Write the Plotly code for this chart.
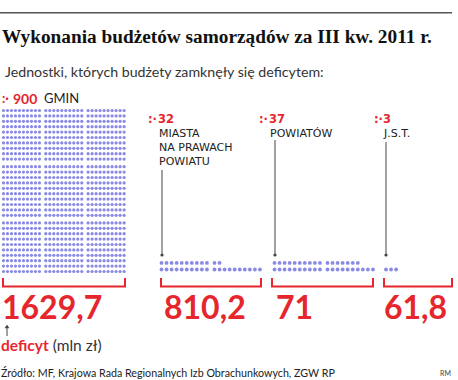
import plotly.graph_objects as go

# ---------------- data ----------------
categories = [["GMIN"], ["MIASTA", "NA PRAWACH", "POWIATU"], ["POWIATÓW"], ["J.S.T."]]
counts = [900, 32, 37, 3]
deficits = [1629.7, 810.2, 71, 61.8]

title = "Wykonania budżetów samorządów za III kw. 2011 r."
subtitle = "Jednostki, których budżety zamknęły się deficytem:"
source = "Źródło: MF, Krajowa Rada Regionalnych Izb Obrachunkowych, ZGW RP"

# ---------------- style / layout constants ----------------
W, H = 458, 380
RED = "#e5262c"
DOT = "#8a8ae4"
DARK = "#222222"
SANS = "Lato"
LBL = "DejaVu Sans"

grp_left = [3, 161, 272, 384]
grp_right = [125, 261, 373, 452]
dot_x0 = [3.5, 161.5, 274.5, 386.0]

fig = go.Figure()

# ---- dots ----
# big group: blocks of 10x10, 3 columns x 3 rows
bx, by = [], []
for k in range(counts[0]):
    block, within = divmod(k, 100)
    rg, col = divmod(block, 3)
    j, i = divmod(within, 10)
    bx.append(dot_x0[0] + col * 42.3 + i * 4.0)
    by.append(110.5 + rg * (10 * 5.4 + 2.2) + j * 5.4)
fig.add_trace(go.Scatter(x=bx, y=by, mode="markers",
                         marker=dict(size=3.2, color=DOT, line=dict(width=0)),
                         hoverinfo="skip", showlegend=False))

sx, sy = [], []
for g in range(1, 4):
    for k in range(counts[g]):
        row, pos = divmod(k, 20)
        sub, i = divmod(pos, 10)
        sx.append(dot_x0[g] + sub * (10 * 5.05 + 2.5) + i * 5.05)
        sy.append(269.5 - row * 6.6)
fig.add_trace(go.Scatter(x=sx, y=sy, mode="markers",
                         marker=dict(size=3.8, color=DOT, line=dict(width=0)),
                         hoverinfo="skip", showlegend=False))

shapes = []
ann = []

def text(x, y, s, size, color=DARK, family=SANS, xanchor="left", yanchor="middle"):
    ann.append(dict(x=x, y=y, xref="x", yref="y", text=s, showarrow=False,
                    xanchor=xanchor, yanchor=yanchor, borderpad=0,
                    font=dict(size=size, color=color, family=family)))

# top rule
shapes.append(dict(type="line", x0=0, x1=452, y0=12.7, y1=12.7,
                   line=dict(color="#555555", width=1.5)))

text(1, 36, "<b>" + title + "</b>", 19.3, "#111111", "Liberation Serif")
text(4, 71, subtitle, 14.2, "#333333")

# brackets + numbers
for g in range(4):
    x0, x1 = grp_left[g], grp_right[g]
    shapes.append(dict(type="path",
                       path=f"M {x0},278 L {x0},286.5 L {x1},286.5 L {x1},278",
                       line=dict(color=RED, width=2)))
    lab = f"{deficits[g]:g}".replace(".", ",")
    nx = [1, 163, 275, 383][g]
    text(nx, 306.5, "<b>" + lab + "</b>", 32, RED)

# group headers
text(1, 98, "<b>:·</b>", 13, RED)
text(12, 98, "<b>900</b>", 14, RED)
text(43, 98, categories[0][0], 13, DARK)

hdr = [(147, 157, 119.4), (258, 268, 119.4), (373, 382, 119.4)]
for g in range(1, 4):
    sx0, nx0, yy = hdr[g - 1]
    text(sx0, yy, "<b>:·</b>", 11.5, RED, LBL)
    text(nx0, yy, f"<b>{counts[g]}</b>", 11.5, RED, LBL)
lab_x = [158, 269, 382]
for g in range(1, 4):
    for li, line in enumerate(categories[g]):
        text(lab_x[g - 1], 133 + li * 14, line, 11, DARK, LBL)

# connectors
conn = [(162, 170), (275, 140), (386, 142)]
for cx, ytop in conn:
    shapes.append(dict(type="line", x0=cx, x1=cx, y0=ytop, y1=255,
                       line=dict(color="#444444", width=1)))
    shapes.append(dict(type="circle", x0=cx - 1.6, x1=cx + 1.6, y0=253.4, y1=256.6,
                       fillcolor="#444444", line=dict(width=0)))

# small arrow
shapes.append(dict(type="line", x0=7, x1=7, y0=336, y1=326,
                   line=dict(color="#444444", width=1)))
shapes.append(dict(type="path", path="M 5,328 L 7,325 L 9,328 Z",
                   fillcolor="#444444", line=dict(color="#444444", width=0.5)))

text(0, 345, f'<b><span style="color:{RED}">deficyt</span></b> (mln zł)', 15.5, "#333333")
text(0, 372, source, 10.7, "#222222")
text(452, 373, "RM", 7, "#444444", xanchor="right")

fig.update_layout(
    width=W, height=H, margin=dict(l=0, r=0, t=0, b=0),
    paper_bgcolor="white", plot_bgcolor="white",
    xaxis=dict(range=[0, W], visible=False, fixedrange=True),
    yaxis=dict(range=[H, 0], visible=False, fixedrange=True),
    shapes=shapes, annotations=ann, showlegend=False,
)
fig.write_html("out.html", config={"displayModeBar": False},
               post_script="document.body.style.margin='0';")
